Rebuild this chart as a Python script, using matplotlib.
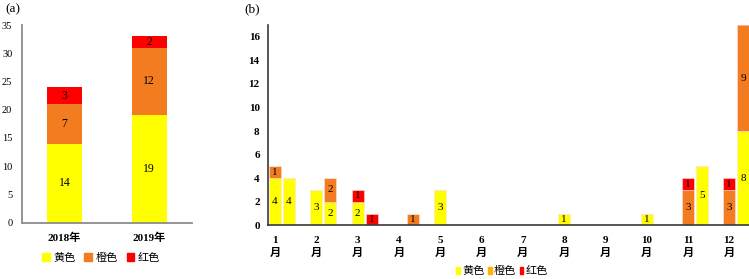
import matplotlib
matplotlib.use("Agg")
import matplotlib.pyplot as plt
from matplotlib.patches import Patch
import numpy as np

plt.rcParams['font.family'] = ['Liberation Serif', 'Noto Sans CJK SC', 'DejaVu Sans']

# ---------- data ----------
years = ['2018年', '2019年']
level_names = ['黄色', '橙色', '红色']
yearly_yellow = [14, 19]
yearly_orange = [7, 12]
yearly_red = [3, 2]

months = ['1\n月', '2\n月', '3\n月', '4\n月', '5\n月', '6\n月',
          '7\n月', '8\n月', '9\n月', '10\n月', '11\n月', '12\n月']
y2018_yellow = [4, 3, 2, 0, 3, 0, 0, 1, 0, 1, 0, 0]
y2018_orange = [1, 0, 0, 0, 0, 0, 0, 0, 0, 0, 3, 3]
y2018_red    = [0, 0, 1, 0, 0, 0, 0, 0, 0, 0, 1, 1]
y2019_yellow = [4, 2, 0, 0, 0, 0, 0, 0, 0, 0, 5, 8]
y2019_orange = [0, 2, 0, 1, 0, 0, 0, 0, 0, 0, 0, 9]
y2019_red    = [0, 0, 1, 0, 0, 0, 0, 0, 0, 0, 0, 1]

# ---------- style ----------
C_Y = '#FFFF00'
C_O = '#F47C20'
C_R = '#FF0000'
C_O_LEG_B = '#FFB000'

fig = plt.figure(figsize=(7.49, 2.79), dpi=100)

# ---------- panel (a) ----------
axa = fig.add_axes([22/749, (279-222.7)/279, (191.7-22)/749, (222.7-25)/279])
x = np.arange(len(years))
w = 0.41
bottoms = np.zeros(len(years))
for vals, col in [(yearly_yellow, C_Y), (yearly_orange, C_O), (yearly_red, C_R)]:
    axa.bar(x, vals, w, bottom=bottoms, color=col, edgecolor='none')
    for xi, v, b in zip(x, vals, bottoms):
        if v > 0:
            axa.text(xi, b + v/2, str(v), ha='center', va='center', fontsize=8.5)
    bottoms = bottoms + np.array(vals)
axa.set_xlim(-0.5, 1.5)
axa.set_ylim(0, 35)
axa.set_yticks(range(0, 36, 5))
axa.set_xticks(x)
axa.set_xticklabels(years, fontweight='bold', fontsize=8)
axa.tick_params(axis='y', length=0, pad=7, labelsize=7.5)
axa.tick_params(axis='x', length=0, pad=7)
for s in ['top', 'right']:
    axa.spines[s].set_visible(False)
for s in ['left', 'bottom']:
    axa.spines[s].set_color('#8C8C8C')
    axa.spines[s].set_linewidth(1.3)
fig.text(5/749, 1 - 9/279, '(a)', fontsize=9.5, va='center', ha='left')

leg_a = fig.legend(handles=[Patch(color=C_Y), Patch(color=C_O), Patch(color=C_R)],
                   labels=level_names, loc='center', bbox_to_anchor=(101/749, 1 - 258/279),
                   ncol=3, frameon=False, fontsize=8, handlelength=0.7, handleheight=0.7,
                   handletextpad=0.3, columnspacing=0.8, borderpad=0)

# ---------- panel (b) ----------
axb = fig.add_axes([268/749, (279-225.3)/279, (749-268)/749, (225.3-25)/279])
xm = np.arange(len(months))
bw = 0.29
off = 0.34
for xs, yl, og, rd in [(xm, y2018_yellow, y2018_orange, y2018_red),
                       (xm + off, y2019_yellow, y2019_orange, y2019_red)]:
    bt = np.zeros(len(months))
    for vals, col in [(yl, C_Y), (og, C_O), (rd, C_R)]:
        axb.bar(xs, vals, bw, bottom=bt, color=col, edgecolor='#FFE0E0', linewidth=0.4)
        for xi, v, b in zip(xs, vals, bt):
            if v > 0 and b + v/2 < 17:
                axb.text(xi, b + v/2, str(v), ha='center', va='center', fontsize=8)
        bt = bt + np.array(vals)
axb.set_xlim(-0.17, 11.48)
axb.set_ylim(0, 17)
axb.set_yticks(range(0, 17, 2))
axb.set_xticks(xm)
axb.set_xticklabels(months, fontsize=8, fontweight='bold', linespacing=1.3)
axb.tick_params(axis='y', length=0, pad=6, labelsize=8)
axb.tick_params(axis='x', length=0, pad=8)
for lab in axb.get_yticklabels():
    lab.set_fontweight('bold')
for s in ['top', 'right']:
    axb.spines[s].set_visible(False)
for s in ['left', 'bottom']:
    axb.spines[s].set_color('#3A3A3A')
    axb.spines[s].set_linewidth(1.2)
fig.text(244/749, 1 - 9/279, '(b)', fontsize=9.5, va='center', ha='left')

leg_b = fig.legend(handles=[Patch(color=C_Y), Patch(color=C_O_LEG_B), Patch(color=C_R)],
                   labels=level_names, loc='center', bbox_to_anchor=(502/749, 1 - 271/279),
                   ncol=3, frameon=False, fontsize=8, handlelength=0.35, handleheight=0.6,
                   handletextpad=0.2, columnspacing=0.3, borderpad=0)

fig.savefig('out.png', dpi=100)
